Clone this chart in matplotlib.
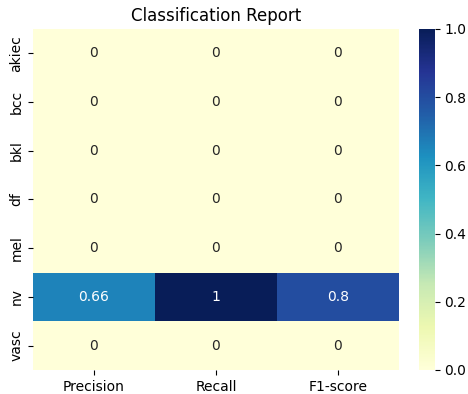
import numpy as np
import matplotlib
matplotlib.use("Agg")
import matplotlib.pyplot as plt
import seaborn as sns

# Klassen und Metriken
classes = ["akiec", "bcc", "bkl", "df", "mel", "nv", "vasc"]
metrics = ["Precision", "Recall", "F1-score"]

precision = [0, 0, 0, 0, 0, 0.66, 0]
recall = [0, 0, 0, 0, 0, 1, 0]
f1_score = [0, 0, 0, 0, 0, 0.8, 0]

report = np.array([precision, recall, f1_score]).T

fig = plt.figure(figsize=(4.68, 3.94), dpi=100)
ax = fig.add_axes([0.0705, 0.061, 0.782, 0.8655])
cax = fig.add_axes([0.8945, 0.061, 0.034, 0.8655])

sns.heatmap(report, annot=True, cmap="YlGnBu", xticklabels=metrics,
            yticklabels=classes, ax=ax, cbar_ax=cax)
ax.set_title("Classification Report")

fig.savefig("out.png", dpi=100)
